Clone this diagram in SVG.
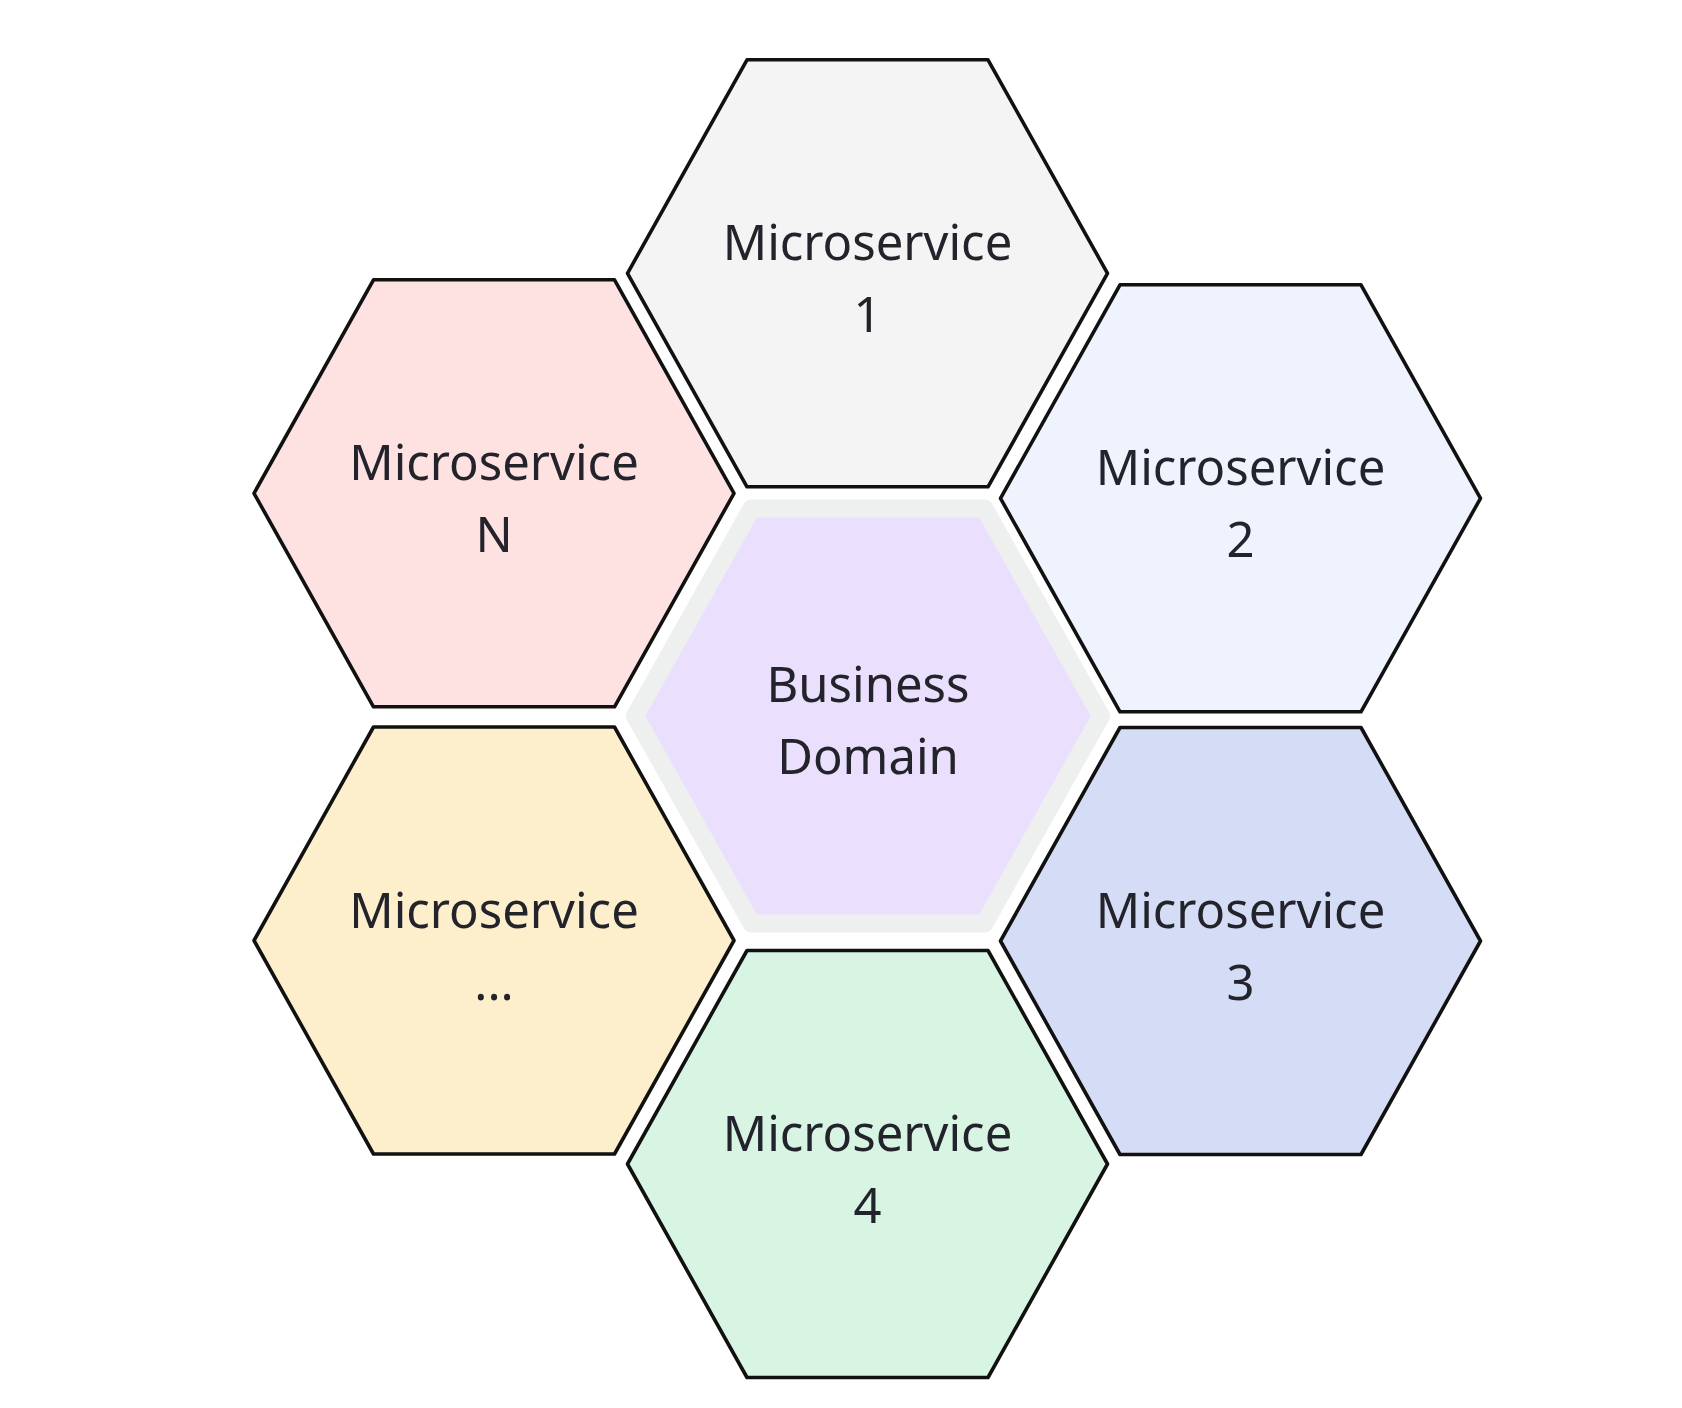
<svg xmlns="http://www.w3.org/2000/svg" width="1682" height="1408" viewBox="0 0 1682 1408">
<style>
.hex{stroke:#111;stroke-width:3.6;stroke-linejoin:round}
.lbl{font-family:"Noto Sans","Open Sans","DejaVu Sans",sans-serif;font-size:49px;fill:#23232b;text-anchor:middle}
</style>
<defs>
<polygon id="hx" points="-240,0 -120.5,-213.5 120.5,-213.5 240,0 120.5,213.5 -120.5,213.5"/>
</defs>
<rect width="1682" height="1408" fill="#ffffff"/>
<g id="connectors"/>
<g id="domain" transform="translate(868,716)">
<polygon points="-233,0 -116.5,-207.5 116.5,-207.5 233,0 116.5,207.5 -116.5,207.5" fill="#eadffc" stroke="#eef0f0" stroke-width="18" stroke-linejoin="round"/>
<text class="lbl" x="0" y="-14">Business</text>
<text class="lbl" x="0" y="58">Domain</text>
</g>
<g id="ms1" transform="translate(867.5,273.3)">
<use href="#hx" class="hex" fill="#f4f4f4"/>
<text class="lbl" x="0" y="-13">Microservice</text>
<text class="lbl" x="0" y="59">1</text>
</g>
<g id="ms2" transform="translate(1240.5,498.3)">
<use href="#hx" class="hex" fill="#eef3fe"/>
<text class="lbl" x="0" y="-13">Microservice</text>
<text class="lbl" x="0" y="59">2</text>
</g>
<g id="ms3" transform="translate(1240.5,941)">
<use href="#hx" class="hex" fill="#d5dcf5"/>
<text class="lbl" x="0" y="-13">Microservice</text>
<text class="lbl" x="0" y="59">3</text>
</g>
<g id="ms4" transform="translate(867.5,1164)">
<use href="#hx" class="hex" fill="#d8f5e4"/>
<text class="lbl" x="0" y="-13">Microservice</text>
<text class="lbl" x="0" y="59">4</text>
</g>
<g id="msdots" transform="translate(494,940.5)">
<use href="#hx" class="hex" fill="#feefcc"/>
<text class="lbl" x="0" y="-13">Microservice</text>
<text class="lbl" x="0" y="59">...</text>
</g>
<g id="msN" transform="translate(494,493.3)">
<use href="#hx" class="hex" fill="#fee2e2"/>
<text class="lbl" x="0" y="-13">Microservice</text>
<text class="lbl" x="0" y="59">N</text>
</g>
</svg>
